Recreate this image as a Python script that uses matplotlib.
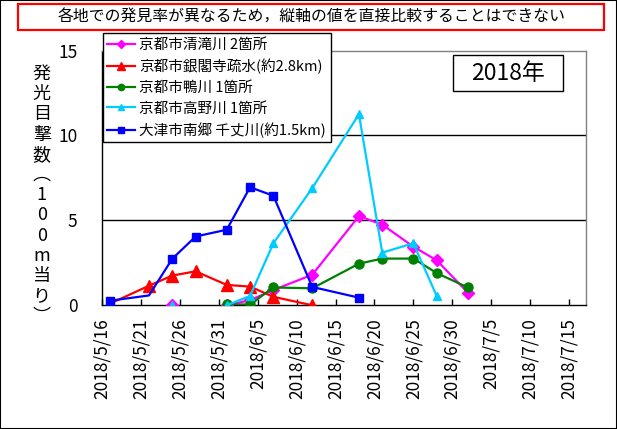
import datetime as dt
import numpy as np
import matplotlib
matplotlib.use('Agg')
import matplotlib.pyplot as plt
import matplotlib.dates as mdates
from matplotlib.patches import Rectangle

plt.rcParams['font.family'] = ['Noto Sans CJK JP', 'DejaVu Sans']

# ---- data ----
nan = np.nan
dates = ['2018-05-17', '2018-05-22', '2018-05-25', '2018-05-28', '2018-06-01',
         '2018-06-04', '2018-06-07', '2018-06-12', '2018-06-18', '2018-06-21',
         '2018-06-25', '2018-06-28', '2018-07-02']
kiyotaki = [nan, nan, 0.0, nan, 0.0, 0.3, 0.9, 1.8, 5.25, 4.75, 3.45, 2.65, 0.75]
ginkakuji = [0.1, 1.15, 1.75, 2.0, 1.2, 1.1, 0.5, 0.0, nan, nan, nan, nan, nan]
kamogawa = [nan, nan, nan, nan, 0.05, 0.05, 1.05, 1.0, 2.45, 2.75, 2.75, 1.9, 1.05]
takano = [nan, nan, 0.0, nan, 0.0, 0.55, 3.65, 6.9, 11.25, 3.1, 3.65, 0.55, nan]
senjo = [0.27, 0.58, 2.74, 4.05, 4.45, 6.95, 6.45, 1.08, 0.45, nan, nan, nan, nan]

series_labels = ['京都市清滝川 2箇所', '京都市銀閣寺疏水(約2.8km)', '京都市鴨川 1箇所',
                 '京都市高野川 1箇所', '大津市南郷 千丈川(約1.5km)']
xtick_labels = ['2018/5/16', '2018/5/21', '2018/5/26', '2018/5/31', '2018/6/5',
                '2018/6/10', '2018/6/15', '2018/6/20', '2018/6/25', '2018/6/30',
                '2018/7/5', '2018/7/10', '2018/7/15']
yticks = [0, 5, 10, 15]
title = '各地での発見率が異なるため，縦軸の値を直接比較することはできない'
ylabel_chars = ['発', '光', '目', '撃', '数', '︵', '1', '0', '0', 'm', '当', 'り', '︶']
year_text = '2018年'

# ---- figure ----
W, H = 617, 429
fig = plt.figure(figsize=(W / 100, H / 100), dpi=100)
fig.patch.set_facecolor('white')

L, R, T, B = 102.3, 586.0, 50.5, 305.3
ax = fig.add_axes([L / W, 1 - B / H, (R - L) / W, (B - T) / H])

x = [dt.datetime.strptime(d, '%Y-%m-%d') for d in dates]

styles = [
    dict(color='#FF00FF', marker='D', markersize=6.5),
    dict(color='#FF0000', marker='^', markersize=8),
    dict(color='#008000', marker='o', markersize=6.5),
    dict(color='#00CCFF', marker='^', markersize=6),
    dict(color='#0000FF', marker='s', markersize=5.5),
]
data = [kiyotaki, ginkakuji, kamogawa, takano, senjo]
handles = []
for i, (vals, st, lab) in enumerate(zip(data, styles, series_labels)):
    kw = dict(lw=1.6, label=lab, zorder=3 + i, **st)
    if i == 4:
        kw['markevery'] = [0, 2, 3, 4, 5, 6, 7, 8]
    h, = ax.plot(x, vals, **kw)
    handles.append(h)

x0 = mdates.date2num(dt.datetime(2018, 5, 16))
ax.set_xlim(x0, x0 + 62.2)
ax.set_ylim(0, 15)

xt = [dt.datetime.strptime(s, '%Y/%m/%d') for s in xtick_labels]
ax.set_xticks(xt)
ax.set_xticklabels(xtick_labels, rotation=90, fontsize=12.5)
ax.tick_params(axis='x', direction='in', length=4, width=1, pad=9, color='black')
ax.set_yticks(yticks)
ax.set_yticklabels([str(v) for v in yticks], fontsize=12.5)
ax.tick_params(axis='y', length=0, pad=18)

for v in [5, 10]:
    ax.axhline(v, color='black', lw=1, zorder=1)

ax.spines['left'].set_color('black')
ax.spines['bottom'].set_color('black')
ax.spines['top'].set_color('#808080')
ax.spines['right'].set_color('#808080')
for s in ax.spines.values():
    s.set_linewidth(1)

# legend
leg = fig.legend(handles=handles, loc='upper left',
                 bbox_to_anchor=(102.7 / W, 1 - 33.3 / H), borderaxespad=0,
                 fontsize=10.5, frameon=True, fancybox=False, framealpha=1,
                 edgecolor='black', labelspacing=0.46, handlelength=1.9,
                 handletextpad=0.3, borderpad=0.32, markerscale=0.7)
leg.get_frame().set_linewidth(1)

# title box
fig.patches.append(Rectangle((18 / W, 1 - 30 / H), (604 - 18) / W, 26 / H,
                             transform=fig.transFigure, fill=False,
                             edgecolor='#FF0000', lw=1.6))
fig.text(312 / W, 1 - 17 / H, title, ha='center', va='center', fontsize=11.4)

# year box
fig.patches.append(Rectangle((453.3 / W, 1 - 90.7 / H), (562.7 - 453.3) / W, 35.7 / H,
                             transform=fig.transFigure, facecolor='white',
                             edgecolor='black', lw=1, zorder=10))
fig.text(508 / W, 1 - 73 / H, year_text, ha='center', va='center', fontsize=16.5, zorder=11)

# vertical y label
for i, ch in enumerate(ylabel_chars):
    fig.text(41.7 / W, 1 - (74 + i * 20.2) / H, ch, ha='center', va='center', fontsize=13)

# outer border
fig.patches.append(Rectangle((0, 0), 1, 1, transform=fig.transFigure, fill=False,
                             edgecolor='black', lw=1.5))

fig.savefig('out.png', dpi=100)
